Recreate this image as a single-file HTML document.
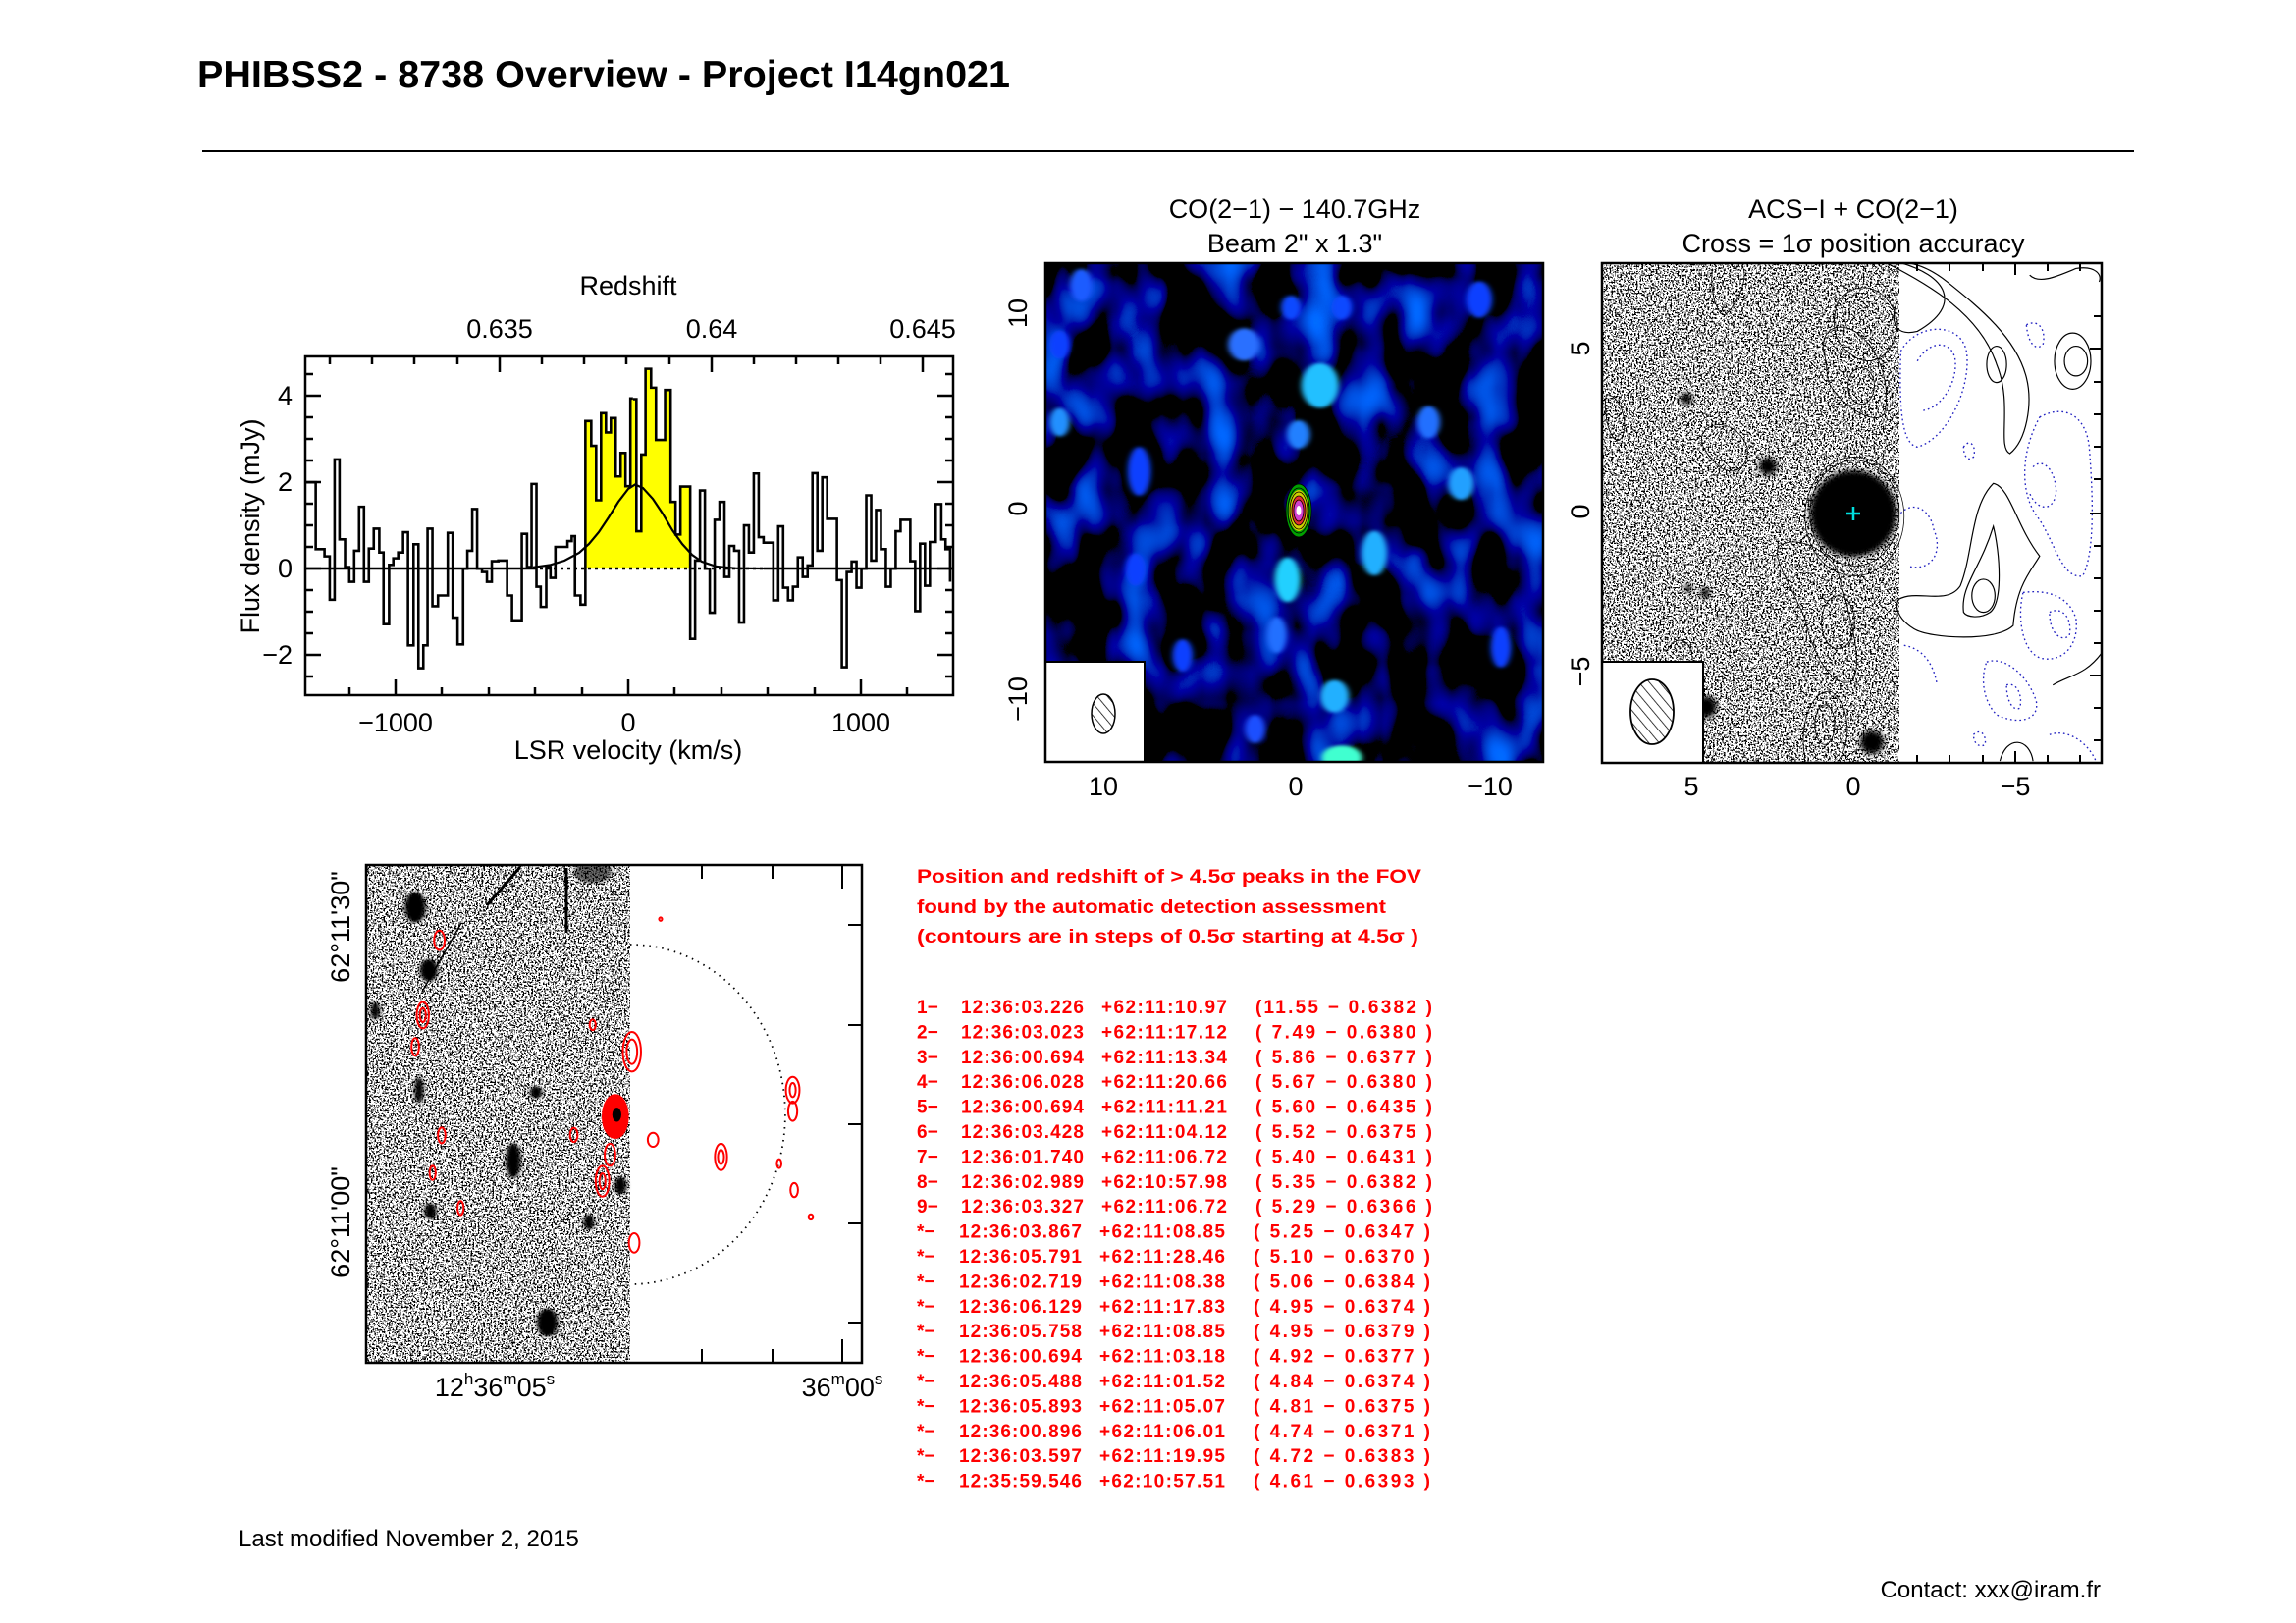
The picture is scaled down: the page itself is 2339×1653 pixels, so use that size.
<!DOCTYPE html>
<html><head><meta charset="utf-8"><style>html,body{margin:0;padding:0;background:#fff}svg{display:block}</style></head>
<body>
<svg width="2339" height="1653" viewBox="0 0 2339 1653" xmlns="http://www.w3.org/2000/svg" font-family="Liberation Sans, sans-serif">
<defs>
<filter id="speck" x="0" y="0" width="100%" height="100%" filterUnits="objectBoundingBox">
<feTurbulence type="fractalNoise" baseFrequency="0.55" numOctaves="2" seed="3" result="n"/>
<feColorMatrix type="matrix" values="0 0 0 0 0  0 0 0 0 0  0 0 0 0 0  1 0 0 0 0" in="n" result="a"/>
<feComponentTransfer in="a"><feFuncA type="discrete" tableValues="1 1 1 1 1 1 1 1 1 0 0 0 0 0 0 0 0 0 0 0"/></feComponentTransfer>
</filter>
<filter id="cloud" x="0" y="0" width="100%" height="100%" filterUnits="objectBoundingBox">
<feTurbulence type="fractalNoise" baseFrequency="0.022 0.014" numOctaves="2" seed="7"/>
<feColorMatrix type="matrix" values="0 0 0 0 0  0.6 0 0 0 -0.36  2.8 0 0 0 -1.3  0 0 0 0 1"/>
</filter>
<filter id="blur6"><feGaussianBlur stdDeviation="4"/></filter>
<filter id="blur3"><feGaussianBlur stdDeviation="3"/></filter>
<pattern id="hatch" width="8" height="8" patternUnits="userSpaceOnUse" patternTransform="rotate(-40)"><line x1="0" y1="0" x2="0" y2="8" stroke="#000" stroke-width="1.5"/></pattern>
<clipPath id="c2"><rect x="1065" y="268" width="507" height="508"/></clipPath>
<clipPath id="c3"><rect x="1632" y="268" width="509" height="509"/></clipPath>
<clipPath id="c4"><rect x="373" y="881" width="505" height="507"/></clipPath>
</defs>

<text x="201" y="89" font-size="39" font-weight="bold" textLength="828" lengthAdjust="spacingAndGlyphs">PHIBSS2 - 8738 Overview - Project I14gn021</text>
<line x1="206" y1="154" x2="2174" y2="154" stroke="#000" stroke-width="2"/>

<!-- ===== Spectrum ===== -->
<g transform="translate(310,360) scale(0.3322)">
<path d="M862,660 V207 H880 V283 H895 V450 H910 V183 H925 V242 H940 V198 H955 V377 H970 V305 H985 V407 H1000 V138 H1010 V660 Z" fill="#ffff00"/>
</g>
<g transform="translate(645,360) scale(0.3322)">
<path d="M0,660 V140 H10 V545 H25 V310 H38 V47 H55 V105 H70 V265 H98 V112 H115 V455 H130 V555 H145 V408 H175 V660 Z" fill="#ffff00"/>
</g>
<line x1="311" y1="579" x2="543" y2="579" stroke="#000" stroke-width="2.5"/>
<line x1="543" y1="579" x2="778" y2="579" stroke="#000" stroke-width="2.5" stroke-dasharray="3,4"/>
<line x1="778" y1="579" x2="971" y2="579" stroke="#000" stroke-width="2.5"/>
<g transform="translate(310,360) scale(0.3322)" fill="none" stroke="#000" stroke-width="2.6">
<path vector-effect="non-scaling-stroke" d="M5,395 H35 V600 H62 V622 H78 V755 H93 V325 H108 V570 H125 V655 H138 V700 H153 V605 H168 V470 H183 V700 H198 V598 H213 V537 H230 V610 H243 V830 H260 V648 H273 V628 H288 V610 H303 V548 H318 V895 H335 V585 H350 V965 H365 V895 H378 V537 H393 V775 H410 V742 H440 V550 H455 V810 H470 V892 H487 V660 H500 V605 H515 V477 H530 V660 H545 V670 H560 V700 H575 V637 H595 V635 H622 V742 H637 V818 H667 V553 H683 V655 H697 V400 H712 V715 H725 V777 H742 V655 H755 V688 H770 V593 H807 V575 H820 V560 H830 V742 H847 V770 H862 V207 H880 V283 H895 V450 H910 V183 H925 V242 H940 V198 H955 V377 H970 V305 H985 V407 H1000 V138 H1008"/>
</g>
<g transform="translate(645,360) scale(0.3322)" fill="none" stroke="#000" stroke-width="2.6">
<path vector-effect="non-scaling-stroke" d="M0,140 H10 V545 H25 V310 H38 V47 H55 V105 H70 V265 H98 V112 H115 V455 H130 V555 H145 V408 H175 V875 H190 V635 H205 V420 H220 V660 H235 V795 H250 V510 H265 V455 H280 V685 H295 V590 H310 V605 H325 V825 H340 V527 H355 V610 H370 V368 H385 V563 H400 V580 H430 V757 H445 V530 H460 V718 H475 V757 H490 V715 H505 V625 H520 V685 H535 V650 H550 V367 H565 V605 H580 V380 H595 V507 H625 V695 H640 V962 H655 V670 H670 V638 H685 V718 H700 V660 H715 V435 H730 V635 H745 V480 H760 V600 H775 V715 H790 V660 H805 V545 H820 V510 H850 V637 H865 V790 H880 V583 H895 V712 H910 V578 H928 V462 H945 V570 H958 V600 H972 V700"/>
</g>
<path fill="none" stroke="#000" stroke-width="2.2" d="M543,577.8 L560,575.5 L575,571 L590,563 L600,554 L610,542 L620,527 L630,511 L640,498 L647,493.5 L655,497 L665,508 L675,523 L685,540 L695,554 L705,565 L715,572 L730,577 L750,578.8 L778,579"/>
<rect x="311" y="363" width="660" height="345" fill="none" stroke="#000" stroke-width="2.5"/>
<g stroke="#000" stroke-width="2.5">
<path d="M311,381h8M311,403h16M311,425h8M311,447h8M311,469h8M311,491h16M311,513h8M311,535h8M311,557h8M311,579h16M311,601h8M311,623h8M311,645h8M311,667h16M311,689h8"/>
<path d="M971,381h-8M971,403h-16M971,425h-8M971,447h-8M971,469h-8M971,491h-16M971,513h-8M971,535h-8M971,557h-8M971,579h-16M971,601h-8M971,623h-8M971,645h-8M971,667h-16M971,689h-8"/>
<path d="M356,708v-8M403,708v-16M450,708v-8M498,708v-8M545,708v-8M593,708v-8M640,708v-16M687,708v-8M735,708v-8M782,708v-8M830,708v-8M877,708v-16M924,708v-8"/>
<path d="M336,363v8M379,363v8M422,363v8M466,363v8M509,363v16M552,363v8M595,363v8M638,363v8M682,363v8M725,363v16M768,363v8M811,363v8M854,363v8M897,363v8M940,363v16"/>
</g>
<g font-size="27" fill="#000">
<text x="640" y="300" text-anchor="middle">Redshift</text>
<text x="509" y="344" text-anchor="middle">0.635</text>
<text x="725" y="344" text-anchor="middle">0.64</text>
<text x="940" y="344" text-anchor="middle">0.645</text>
<text x="298" y="412" text-anchor="end">4</text>
<text x="298" y="500" text-anchor="end">2</text>
<text x="298" y="588" text-anchor="end">0</text>
<text x="298" y="676" text-anchor="end">−2</text>
<text x="403" y="745" text-anchor="middle">−1000</text>
<text x="640" y="745" text-anchor="middle">0</text>
<text x="877" y="745" text-anchor="middle">1000</text>
<text x="640" y="773" text-anchor="middle">LSR velocity (km/s)</text>
<text transform="translate(264,536) rotate(-90)" text-anchor="middle">Flux density (mJy)</text>
</g>

<!-- ===== Map 2 ===== -->
<g font-size="27" text-anchor="middle">
<text x="1319" y="222">CO(2−1) − 140.7GHz</text>
<text x="1319" y="257">Beam 2" x 1.3"</text>
<text x="1888" y="222">ACS−I + CO(2−1)</text>
<text x="1888" y="257">Cross = 1σ position accuracy</text>
</g>
<g clip-path="url(#c2)">
<rect x="1065" y="268" width="507" height="508" fill="#000" filter="url(#cloud)"/>
<g transform="translate(1050,180) scale(0.737,0.4167)" filter="url(#blur6)">
<ellipse cx="70" cy="265" rx="16" ry="40" fill="#1a5cff"/>
<ellipse cx="40" cy="410" rx="14" ry="35" fill="#1040ff"/>
<ellipse cx="40" cy="600" rx="14" ry="35" fill="#2090ff"/>
<ellipse cx="150" cy="720" rx="16" ry="60" fill="#1040ff"/>
<ellipse cx="295" cy="410" rx="22" ry="40" fill="#2a70ff"/>
<ellipse cx="400" cy="510" rx="26" ry="55" fill="#20c0ff"/>
<ellipse cx="370" cy="630" rx="16" ry="35" fill="#2080ff"/>
<ellipse cx="550" cy="600" rx="16" ry="40" fill="#2070ff"/>
<ellipse cx="595" cy="750" rx="18" ry="40" fill="#20a0ff"/>
<ellipse cx="475" cy="920" rx="18" ry="55" fill="#20b0ff"/>
<ellipse cx="355" cy="985" rx="18" ry="55" fill="#20d0ff"/>
<ellipse cx="340" cy="1120" rx="14" ry="45" fill="#2070ff"/>
<ellipse cx="420" cy="1270" rx="20" ry="40" fill="#20b0ff"/>
<ellipse cx="310" cy="1350" rx="14" ry="35" fill="#1a50ff"/>
<ellipse cx="430" cy="1420" rx="28" ry="30" fill="#40ffd0"/>
<ellipse cx="145" cy="960" rx="14" ry="40" fill="#1040ff"/>
<ellipse cx="620" cy="300" rx="18" ry="45" fill="#1040ff"/>
<ellipse cx="650" cy="1150" rx="14" ry="50" fill="#1040ff"/>
<ellipse cx="430" cy="320" rx="14" ry="30" fill="#1048ff"/>
<ellipse cx="360" cy="320" rx="14" ry="30" fill="#1048ff"/>
<ellipse cx="210" cy="1170" rx="14" ry="40" fill="#1040ff"/>
</g>
<g transform="translate(1323,520)">
<ellipse rx="13" ry="27" fill="#00a000"/>
<ellipse rx="10" ry="21" fill="#d0d000"/>
<ellipse rx="7.5" ry="15" fill="#e03030"/>
<ellipse rx="5" ry="10" fill="#d040d0"/>
<ellipse rx="2.5" ry="5" fill="#fff"/>
<g fill="none" stroke="#000" stroke-width="0.8"><ellipse rx="13" ry="27"/><ellipse rx="11" ry="23"/><ellipse rx="9" ry="19"/><ellipse rx="7" ry="15"/><ellipse rx="5" ry="11"/></g>
</g>
<rect x="1065" y="674" width="101" height="102" fill="#fff" stroke="#000" stroke-width="2"/>
<ellipse cx="1124" cy="727" rx="12" ry="20" fill="url(#hatch)" stroke="#000" stroke-width="1.5"/>
</g>
<rect x="1065" y="268" width="507" height="508" fill="none" stroke="#000" stroke-width="2.5"/>
<g font-size="27" text-anchor="middle">
<text transform="translate(1046,319) rotate(-90)">10</text>
<text transform="translate(1046,518) rotate(-90)">0</text>
<text transform="translate(1046,712) rotate(-90)">−10</text>
<text x="1124" y="810">10</text>
<text x="1320" y="810">0</text>
<text x="1518" y="810">−10</text>
<text transform="translate(1619,355) rotate(-90)">5</text>
<text transform="translate(1619,521) rotate(-90)">0</text>
<text transform="translate(1619,684) rotate(-90)">−5</text>
<text x="1723" y="810">5</text>
<text x="1888" y="810">0</text>
<text x="2053" y="810">−5</text>
</g>

<!-- ===== Map 3 ===== -->
<g clip-path="url(#c3)">
<rect x="1632" y="268" width="303" height="509" fill="#000" filter="url(#speck)"/>
<g fill="#000" filter="url(#blur3)">
<circle cx="1888" cy="523" r="44"/>
<circle cx="1801" cy="475" r="9"/>
<circle cx="1718" cy="406" r="6"/>
<circle cx="1738" cy="720" r="11"/>
<circle cx="1907" cy="756" r="12"/>
<circle cx="1737" cy="604" r="5"/>
<circle cx="1720" cy="599" r="4"/>
</g>
<g transform="translate(1630,260) scale(0.3367)" fill="none" stroke="#000" stroke-width="3.5">
<g stroke-width="2.2"><ellipse cx="770" cy="780" rx="135" ry="160"/><ellipse cx="770" cy="790" rx="150" ry="180"/></g>
<path d="M900,20 C1050,60 1100,150 960,230 C880,250 880,180 900,140"/>
<path d="M860,20 C1000,90 1150,180 1200,330 C1250,450 1200,580 1240,600 C1290,560 1310,450 1290,370 C1260,250 1150,160 1050,80 C1000,40 950,20 900,20"/>
<path d="M1300,60 C1330,90 1390,60 1440,40 C1500,30 1520,60 1510,80"/>
<ellipse cx="1430" cy="320" rx="55" ry="85"/>
<ellipse cx="1440" cy="320" rx="35" ry="45"/>
<ellipse cx="1200" cy="330" rx="30" ry="55"/>
<path d="M905,1040 C960,1010 1050,1060 1090,1000 C1130,900 1120,760 1190,690 C1240,700 1260,820 1330,910 C1300,960 1260,1000 1250,1120 C1200,1170 1000,1160 950,1130 C900,1100 890,1060 905,1040 Z"/>
<path d="M1100,1080 C1090,1000 1150,950 1190,820 C1210,900 1220,1050 1180,1080 C1150,1100 1110,1095 1100,1080 Z"/>
<ellipse cx="1160" cy="1030" rx="35" ry="50"/>
<path d="M1370,1300 C1420,1270 1470,1270 1520,1200"/>
<path d="M1210,1530 C1230,1450 1300,1460 1310,1530"/>
<g stroke-width="2.5"><path d="M680,300 C660,250 700,190 770,230 C850,280 880,400 860,480 C830,520 720,450 690,380 Z"/><ellipse cx="790" cy="395" rx="40" ry="55"/><path d="M720,140 C780,60 880,100 900,200 C900,300 820,350 760,300 C700,260 700,200 720,140Z"/><path d="M310,540 C340,490 420,510 445,580 C455,640 400,680 350,630 C320,600 300,570 310,540Z"/><path d="M540,880 C600,840 700,900 720,960 C760,1100 800,1250 760,1290 C700,1310 640,1200 620,1100 C580,1000 520,920 540,880Z"/><ellipse cx="720" cy="1110" rx="50" ry="80"/><path d="M620,1520 C600,1420 640,1310 700,1320 C760,1360 760,1480 720,1530"/><ellipse cx="680" cy="1420" rx="30" ry="60"/><path d="M340,40 C330,120 360,190 380,180 C420,140 450,70 430,30"/><path d="M20,420 C80,430 90,560 50,560 C20,540 10,460 20,420Z"/><path d="M200,1200 C230,1140 280,1160 280,1230"/></g>
</g>
<g transform="translate(1630,260) scale(0.3367)" fill="none" stroke="#2020c0" stroke-width="4" stroke-dasharray="5,9">
<path d="M910,290 C960,200 1100,200 1110,300 C1120,420 1040,560 960,580 C910,570 905,450 910,290Z"/>
<path d="M960,320 C1000,250 1070,260 1075,320 C1080,400 1020,470 970,470"/>
<path d="M1290,210 C1330,190 1350,230 1340,270 C1320,290 1295,270 1290,210Z"/>
<path d="M1100,580 C1120,550 1140,580 1130,610 C1115,625 1100,610 1100,580Z"/>
<path d="M1330,490 C1400,450 1470,480 1480,580 C1490,700 1500,900 1460,970 C1400,980 1380,880 1330,800 C1270,730 1270,600 1330,490Z"/>
<path d="M1310,640 C1340,610 1380,650 1380,720 C1370,780 1320,770 1300,720"/>
<path d="M910,780 C950,740 1000,770 1010,830 C1040,900 1000,960 930,940"/>
<path d="M1280,1020 C1350,1010 1420,1030 1440,1100 C1450,1180 1400,1230 1340,1220 C1280,1210 1260,1100 1280,1020Z"/>
<path d="M1360,1080 C1400,1060 1430,1100 1420,1150 C1400,1170 1360,1150 1360,1080Z"/>
<path d="M1170,1230 C1230,1210 1300,1280 1320,1350 C1330,1410 1260,1420 1200,1390 C1160,1350 1150,1280 1170,1230Z"/>
<path d="M1230,1300 C1260,1290 1280,1330 1270,1370 C1250,1380 1230,1350 1230,1300Z"/>
<path d="M920,1180 C980,1190 1010,1240 1020,1300"/>
<path d="M1130,1450 C1150,1430 1170,1450 1165,1480 C1150,1490 1130,1480 1130,1450Z"/>
<path d="M1360,1450 C1420,1430 1480,1480 1500,1530"/>
</g>
<path d="M1881,523 h14 M1888,516 v14" stroke="#00e0e0" stroke-width="2.5"/>
<rect x="1632" y="674" width="103" height="103" fill="#fff" stroke="#000" stroke-width="2"/>
<ellipse cx="1683" cy="725" rx="22" ry="33" fill="url(#hatch)" stroke="#000" stroke-width="1.8"/>
</g>
<rect x="1632" y="268" width="509" height="509" fill="none" stroke="#000" stroke-width="2.5"/>
<g stroke="#000" stroke-width="2">
<path d="M2141,322h-8M2141,355h-12M2141,389h-8M2141,422h-8M2141,455h-8M2141,488h-8M2141,523h-12M2141,556h-8M2141,589h-8M2141,622h-8M2141,655h-8M2141,688h-12M2141,721h-8M2141,754h-8"/>
<path d="M1953,268v8M1986,268v8M2020,268v8M2053,268v12M2086,268v8M2119,268v8M1953,777v-8M1986,777v-8M2020,777v-8M2053,777v-12M2086,777v-8M2119,777v-8"/>
</g>

<!-- ===== Bottom image ===== -->
<g clip-path="url(#c4)">
<rect x="373" y="881" width="269" height="507" fill="#000" filter="url(#speck)"/>
<g transform="translate(300,850) scale(0.769,0.4486)" fill="#000" filter="url(#blur3)">
<ellipse cx="160" cy="165" rx="14" ry="35"/>
<ellipse cx="178" cy="308" rx="12" ry="25"/>
<ellipse cx="290" cy="740" rx="10" ry="40"/>
<ellipse cx="335" cy="1108" rx="14" ry="32"/>
<ellipse cx="432" cy="797" rx="8" ry="20"/>
<ellipse cx="390" cy="880" rx="7" ry="18"/>
<ellipse cx="107" cy="400" rx="6" ry="20"/>
<ellipse cx="165" cy="580" rx="6" ry="30"/>
<ellipse cx="180" cy="855" rx="8" ry="18"/>
<ellipse cx="320" cy="585" rx="8" ry="14"/>
<ellipse cx="395" cy="85" rx="25" ry="25" opacity="0.6"/>
</g>
<g stroke="#000" stroke-width="3">
<line x1="496" y1="922" x2="530" y2="883"/>
<line x1="577" y1="884" x2="577" y2="950"/>
<line x1="430" y1="1010" x2="470" y2="940" stroke-width="1.5"/>
</g>
<path d="M642,962 A158,173 0 0 1 642,1308" fill="none" stroke="#000" stroke-width="1.8" stroke-dasharray="1.5,5"/>
<g transform="translate(300,850) scale(0.769,0.4486)" fill="none" stroke="#ff0000" stroke-width="2">
<g>
<ellipse vector-effect="non-scaling-stroke" cx="192" cy="240" rx="7" ry="22"/>
<ellipse vector-effect="non-scaling-stroke" cx="170" cy="410" rx="8" ry="30"/><ellipse vector-effect="non-scaling-stroke" cx="170" cy="410" rx="4" ry="16"/>
<ellipse vector-effect="non-scaling-stroke" cx="160" cy="482" rx="5" ry="20"/>
<ellipse vector-effect="non-scaling-stroke" cx="447" cy="493" rx="12" ry="45"/><ellipse vector-effect="non-scaling-stroke" cx="447" cy="493" rx="7" ry="28"/>
<ellipse vector-effect="non-scaling-stroke" cx="195" cy="683" rx="5" ry="18"/>
<ellipse vector-effect="non-scaling-stroke" cx="370" cy="682" rx="5" ry="16"/>
<ellipse vector-effect="non-scaling-stroke" cx="475" cy="693" rx="7" ry="16"/>
<ellipse vector-effect="non-scaling-stroke" cx="565" cy="732" rx="8" ry="30"/><ellipse vector-effect="non-scaling-stroke" cx="565" cy="732" rx="4" ry="16"/>
<ellipse vector-effect="non-scaling-stroke" cx="418" cy="727" rx="7" ry="25"/>
<ellipse vector-effect="non-scaling-stroke" cx="408" cy="787" rx="9" ry="35"/><ellipse vector-effect="non-scaling-stroke" cx="408" cy="787" rx="4" ry="18"/>
<ellipse vector-effect="non-scaling-stroke" cx="183" cy="768" rx="4" ry="16"/>
<ellipse vector-effect="non-scaling-stroke" cx="220" cy="848" rx="4" ry="16"/>
<ellipse vector-effect="non-scaling-stroke" cx="660" cy="580" rx="9" ry="30"/><ellipse vector-effect="non-scaling-stroke" cx="660" cy="580" rx="4" ry="16"/>
<ellipse vector-effect="non-scaling-stroke" cx="660" cy="628" rx="6" ry="22"/>
<ellipse vector-effect="non-scaling-stroke" cx="642" cy="747" rx="3" ry="10"/>
<ellipse vector-effect="non-scaling-stroke" cx="662" cy="807" rx="5" ry="16"/>
<ellipse vector-effect="non-scaling-stroke" cx="450" cy="927" rx="7" ry="22"/>
<ellipse vector-effect="non-scaling-stroke" cx="684" cy="868" rx="3" ry="6"/>
<ellipse vector-effect="non-scaling-stroke" cx="485" cy="192" rx="2" ry="4"/>
<ellipse vector-effect="non-scaling-stroke" cx="395" cy="432" rx="4" ry="12"/>
</g>
<ellipse cx="425" cy="640" rx="17" ry="50" fill="#ff0000"/>
<ellipse cx="427" cy="636" rx="6" ry="16" fill="#000" stroke="none"/>
</g>
</g>
<rect x="373" y="881" width="505" height="507" fill="none" stroke="#000" stroke-width="2.5"/>
<g stroke="#000" stroke-width="2">
<path d="M878,942h-14M878,1044h-14M878,1145h-14M878,1246h-14M878,1347h-14"/>
<path d="M715,1388v-14M787,1388v-14M858,1388v-24M715,881v14M787,881v14M858,881v24"/>
</g>
<g font-size="27" text-anchor="middle">
<text transform="translate(356,944) rotate(-90)">62°11'30"</text>
<text transform="translate(356,1245) rotate(-90)">62°11'00"</text>
<text x="504" y="1422">12<tspan font-size="17" dy="-12">h</tspan><tspan dy="12">36</tspan><tspan font-size="17" dy="-12">m</tspan><tspan dy="12">05</tspan><tspan font-size="17" dy="-12">s</tspan></text>
<text x="858" y="1422">36<tspan font-size="17" dy="-12">m</tspan><tspan dy="12">00</tspan><tspan font-size="17" dy="-12">s</tspan></text>
</g>

<!-- ===== Red text ===== -->
<g fill="#ff0000" font-size="19" font-weight="bold">
<text x="934" y="899" textLength="514" lengthAdjust="spacingAndGlyphs">Position and redshift of &gt; 4.5σ peaks in the FOV</text>
<text x="934" y="930" textLength="478" lengthAdjust="spacingAndGlyphs">found by the automatic detection assessment</text>
<text x="934" y="960" textLength="511" lengthAdjust="spacingAndGlyphs">(contours are in steps of 0.5σ starting at 4.5σ )</text>
</g>
<g fill="#ff0000" font-size="19" font-weight="bold" lengthAdjust="spacingAndGlyphs">
<g transform="translate(0,1032)">
<text x="934" y="0">1−</text><text x="979" y="0" textLength="125">12:36:03.226</text><text x="1122" y="0" textLength="128">+62:11:10.97</text><text x="1279" y="0" textLength="180">(11.55 − 0.6382 )</text>
<text x="934" y="25.4">2−</text><text x="979" y="25.4" textLength="125">12:36:03.023</text><text x="1122" y="25.4" textLength="128">+62:11:17.12</text><text x="1279" y="25.4" textLength="180">( 7.49 − 0.6380 )</text>
<text x="934" y="50.8">3−</text><text x="979" y="50.8" textLength="125">12:36:00.694</text><text x="1122" y="50.8" textLength="128">+62:11:13.34</text><text x="1279" y="50.8" textLength="180">( 5.86 − 0.6377 )</text>
<text x="934" y="76.2">4−</text><text x="979" y="76.2" textLength="125">12:36:06.028</text><text x="1122" y="76.2" textLength="128">+62:11:20.66</text><text x="1279" y="76.2" textLength="180">( 5.67 − 0.6380 )</text>
<text x="934" y="101.6">5−</text><text x="979" y="101.6" textLength="125">12:36:00.694</text><text x="1122" y="101.6" textLength="128">+62:11:11.21</text><text x="1279" y="101.6" textLength="180">( 5.60 − 0.6435 )</text>
<text x="934" y="127">6−</text><text x="979" y="127" textLength="125">12:36:03.428</text><text x="1122" y="127" textLength="128">+62:11:04.12</text><text x="1279" y="127" textLength="180">( 5.52 − 0.6375 )</text>
<text x="934" y="152.4">7−</text><text x="979" y="152.4" textLength="125">12:36:01.740</text><text x="1122" y="152.4" textLength="128">+62:11:06.72</text><text x="1279" y="152.4" textLength="180">( 5.40 − 0.6431 )</text>
<text x="934" y="177.8">8−</text><text x="979" y="177.8" textLength="125">12:36:02.989</text><text x="1122" y="177.8" textLength="128">+62:10:57.98</text><text x="1279" y="177.8" textLength="180">( 5.35 − 0.6382 )</text>
<text x="934" y="203.2">9−</text><text x="979" y="203.2" textLength="125">12:36:03.327</text><text x="1122" y="203.2" textLength="128">+62:11:06.72</text><text x="1279" y="203.2" textLength="180">( 5.29 − 0.6366 )</text>
<text x="934" y="228.6">*−</text><text x="977" y="228.6" textLength="125">12:36:03.867</text><text x="1120" y="228.6" textLength="128">+62:11:08.85</text><text x="1277" y="228.6" textLength="180">( 5.25 − 0.6347 )</text>
<text x="934" y="254">*−</text><text x="977" y="254" textLength="125">12:36:05.791</text><text x="1120" y="254" textLength="128">+62:11:28.46</text><text x="1277" y="254" textLength="180">( 5.10 − 0.6370 )</text>
<text x="934" y="279.4">*−</text><text x="977" y="279.4" textLength="125">12:36:02.719</text><text x="1120" y="279.4" textLength="128">+62:11:08.38</text><text x="1277" y="279.4" textLength="180">( 5.06 − 0.6384 )</text>
<text x="934" y="304.8">*−</text><text x="977" y="304.8" textLength="125">12:36:06.129</text><text x="1120" y="304.8" textLength="128">+62:11:17.83</text><text x="1277" y="304.8" textLength="180">( 4.95 − 0.6374 )</text>
<text x="934" y="330.2">*−</text><text x="977" y="330.2" textLength="125">12:36:05.758</text><text x="1120" y="330.2" textLength="128">+62:11:08.85</text><text x="1277" y="330.2" textLength="180">( 4.95 − 0.6379 )</text>
<text x="934" y="355.6">*−</text><text x="977" y="355.6" textLength="125">12:36:00.694</text><text x="1120" y="355.6" textLength="128">+62:11:03.18</text><text x="1277" y="355.6" textLength="180">( 4.92 − 0.6377 )</text>
<text x="934" y="381">*−</text><text x="977" y="381" textLength="125">12:36:05.488</text><text x="1120" y="381" textLength="128">+62:11:01.52</text><text x="1277" y="381" textLength="180">( 4.84 − 0.6374 )</text>
<text x="934" y="406.4">*−</text><text x="977" y="406.4" textLength="125">12:36:05.893</text><text x="1120" y="406.4" textLength="128">+62:11:05.07</text><text x="1277" y="406.4" textLength="180">( 4.81 − 0.6375 )</text>
<text x="934" y="431.8">*−</text><text x="977" y="431.8" textLength="125">12:36:00.896</text><text x="1120" y="431.8" textLength="128">+62:11:06.01</text><text x="1277" y="431.8" textLength="180">( 4.74 − 0.6371 )</text>
<text x="934" y="457.2">*−</text><text x="977" y="457.2" textLength="125">12:36:03.597</text><text x="1120" y="457.2" textLength="128">+62:11:19.95</text><text x="1277" y="457.2" textLength="180">( 4.72 − 0.6383 )</text>
<text x="934" y="482.6">*−</text><text x="977" y="482.6" textLength="125">12:35:59.546</text><text x="1120" y="482.6" textLength="128">+62:10:57.51</text><text x="1277" y="482.6" textLength="180">( 4.61 − 0.6393 )</text>
</g>
</g>

<text x="243" y="1575" font-size="24">Last modified November 2, 2015</text>
<text x="2140" y="1627" font-size="24" text-anchor="end">Contact: xxx@iram.fr</text>
</svg>
</body></html>
